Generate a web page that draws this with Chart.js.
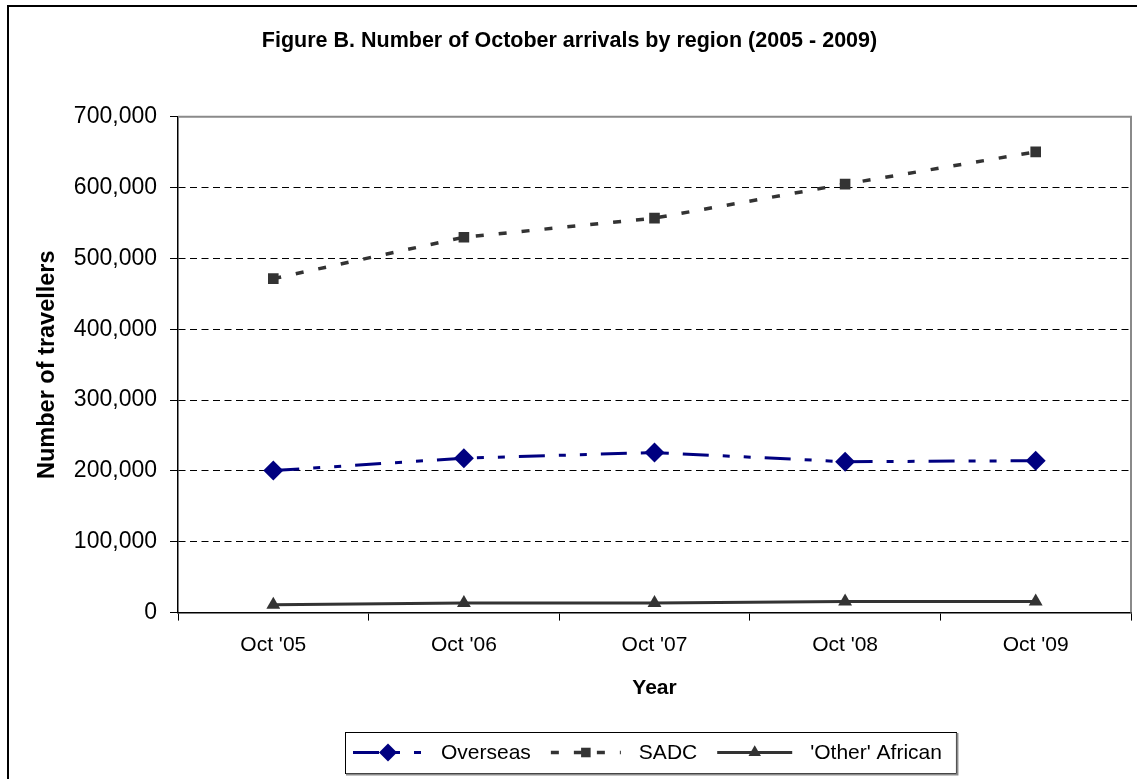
<!DOCTYPE html>
<html>
<head>
<meta charset="utf-8">
<script src="https://cdn.jsdelivr.net/npm/chart.js@4.4.0/dist/chart.umd.min.js"></script>
<style>
    html, body { margin: 0; padding: 0; background: #fff; overflow: hidden; }
    #wrap { position: relative; width: 1137px; height: 779px; }
    #frame { position: absolute; left: 7px; top: 5px; width: 1300px; height: 900px; border: 2px solid #000; }
    #arrivalsChart { position: absolute; left: 0; top: 0; }
</style>
</head>
<body>
<div id="wrap">
    <div id="frame"></div>
    <canvas id="arrivalsChart" width="1137" height="779"></canvas>
</div>
<script>
const categories = ["Oct '05", "Oct '06", "Oct '07", "Oct '08", "Oct '09"];
const overseas = [200500, 218000, 226000, 213000, 214500];
const sadc = [471500, 530000, 557000, 605000, 650500];
const otherAfrican = [11000, 13500, 13500, 15500, 15500];
const yTicks = [0, 100000, 200000, 300000, 400000, 500000, 600000, 700000];

Chart.defaults.font.family = "'Liberation Sans', Arial, sans-serif";
Chart.defaults.color = '#000';

function drawMarker(ctx, style, x, y, r) {
    ctx.beginPath();
    if (style === 'rectRot') {
        ctx.moveTo(x, y - r);
        ctx.lineTo(x + r, y);
        ctx.lineTo(x, y + r);
        ctx.lineTo(x - r, y);
    } else if (style === 'rect') {
        const s = r * Math.SQRT1_2;
        ctx.rect(x - s, y - s, 2 * s, 2 * s);
    } else {
        ctx.moveTo(x, y - r);
        ctx.lineTo(x + r * 0.866, y + r / 2);
        ctx.lineTo(x - r * 0.866, y + r / 2);
    }
    ctx.closePath();
    ctx.fill();
}

// gray frame on top and right of the plot area
const plotFrame = {
    id: 'plotFrame',
    beforeDatasetsDraw(chart) {
        const { ctx, chartArea: a } = chart;
        ctx.save();
        ctx.strokeStyle = '#8a8a8a';
        ctx.lineWidth = 2;
        ctx.beginPath();
        ctx.moveTo(a.left, a.top);
        ctx.lineTo(a.right, a.top);
        ctx.lineTo(a.right, a.bottom);
        ctx.stroke();
        ctx.restore();
    }
};

// Excel style legend: line sample + marker, boxed
const boxedLegend = {
    id: 'boxedLegend',
    afterDraw(chart) {
        const ctx = chart.ctx;
        const left = 345, top = 732, height = 41;
        const cy = top + height / 2;
        const sampleWidths = [70, 70, 75];
        ctx.save();
        ctx.font = "21px 'Liberation Sans', Arial, sans-serif";
        ctx.textBaseline = 'middle';
        let x = left + 8;
        chart.data.datasets.forEach((ds, i) => {
            const w = sampleWidths[i];
            ctx.strokeStyle = ds.borderColor;
            ctx.fillStyle = ds.borderColor;
            ctx.lineWidth = ds.borderWidth;
            ctx.setLineDash(ds.borderDash || []);
            ctx.beginPath();
            ctx.moveTo(x, cy);
            ctx.lineTo(x + w, cy);
            ctx.stroke();
            ctx.setLineDash([]);
            drawMarker(ctx, ds.pointStyle, x + w / 2, cy, ds.pointRadius * 0.9);
            x += w + 18;
            ctx.fillStyle = '#000';
            ctx.fillText(ds.label, x, cy + 1);
            x += ctx.measureText(ds.label).width + 20;
        });
        const right = x - 20 + 14;
        ctx.strokeStyle = '#000';
        ctx.lineWidth = 1;
        ctx.strokeRect(left + 0.5, top + 0.5, right - left, height);
        ctx.strokeStyle = '#8a8a8a';
        ctx.lineWidth = 2;
        ctx.beginPath();
        ctx.moveTo(left + 1, top + height + 1.5);
        ctx.lineTo(right + 1.5, top + height + 1.5);
        ctx.lineTo(right + 1.5, top + 1);
        ctx.stroke();
        ctx.restore();
    }
};

const ctx = document.getElementById('arrivalsChart').getContext('2d');
new Chart(ctx, {
    type: 'line',
    data: {
        labels: categories,
        datasets: [{
            label: 'Overseas',
            data: overseas,
            borderColor: '#000080',
            backgroundColor: '#000080',
            borderWidth: 3,
            borderDash: [26, 14, 7, 14, 7, 14],
            pointStyle: 'rectRot',
            pointRadius: 10,
            pointBorderWidth: 0,
            tension: 0
        }, {
            label: 'SADC',
            data: sadc,
            borderColor: '#333333',
            backgroundColor: '#333333',
            borderWidth: 3.5,
            borderDash: [8, 15],
            pointStyle: 'rect',
            pointRadius: 7.5,
            pointBorderWidth: 0,
            tension: 0
        }, {
            label: "'Other' African",
            data: otherAfrican,
            borderColor: '#333333',
            backgroundColor: '#333333',
            borderWidth: 3,
            pointStyle: 'triangle',
            pointRadius: 8,
            pointBorderWidth: 0,
            tension: 0
        }]
    },
    options: {
        responsive: false,
        animation: false,
        layout: {
            autoPadding: false,
            padding: { left: 8, right: 6, top: 0, bottom: 51 }
        },
        plugins: {
            legend: { display: false },
            tooltip: { enabled: false },
            title: {
                display: true,
                text: 'Figure B. Number of October arrivals by region (2005 - 2009)',
                color: '#000',
                font: { size: 21.5, weight: 'bold' },
                padding: { top: 28, bottom: 63 }
            }
        },
        scales: {
            x: {
                offset: true,
                grid: {
                    offset: true,
                    drawOnChartArea: false,
                    tickLength: 8,
                    color: '#000',
                    tickColor: '#000'
                },
                border: { color: '#000', width: 1.5 },
                ticks: { color: '#000', font: { size: 21 }, padding: 12, maxRotation: 0 },
                title: {
                    display: true,
                    text: 'Year',
                    color: '#000',
                    font: { size: 21, weight: 'bold' },
                    padding: { top: 6, bottom: 27 }
                }
            },
            y: {
                min: 0,
                max: 700000,
                afterBuildTicks: scale => {
                    scale.ticks = yTicks.map(v => ({ value: v }));
                },
                afterFit: scale => {
                    scale.width = 170;
                },
                grid: {
                    color: c => (c.tick && (c.tick.value === 0 || c.tick.value === 700000)) ? 'rgba(0,0,0,0)' : '#000',
                    tickColor: '#000',
                    tickLength: 8,
                    lineWidth: 1
                },
                border: { color: '#000', width: 1.5, dash: [7, 4.5] },
                ticks: {
                    color: '#000',
                    font: { size: 23 },
                    padding: 13,
                    callback: v => v.toLocaleString('en-US')
                },
                title: {
                    display: true,
                    text: 'Number of travellers',
                    color: '#000',
                    font: { size: 23.5, weight: 'bold' },
                    padding: { top: 25, bottom: 0 }
                }
            }
        }
    },
    plugins: [plotFrame, boxedLegend]
});
</script>
</body>
</html>
